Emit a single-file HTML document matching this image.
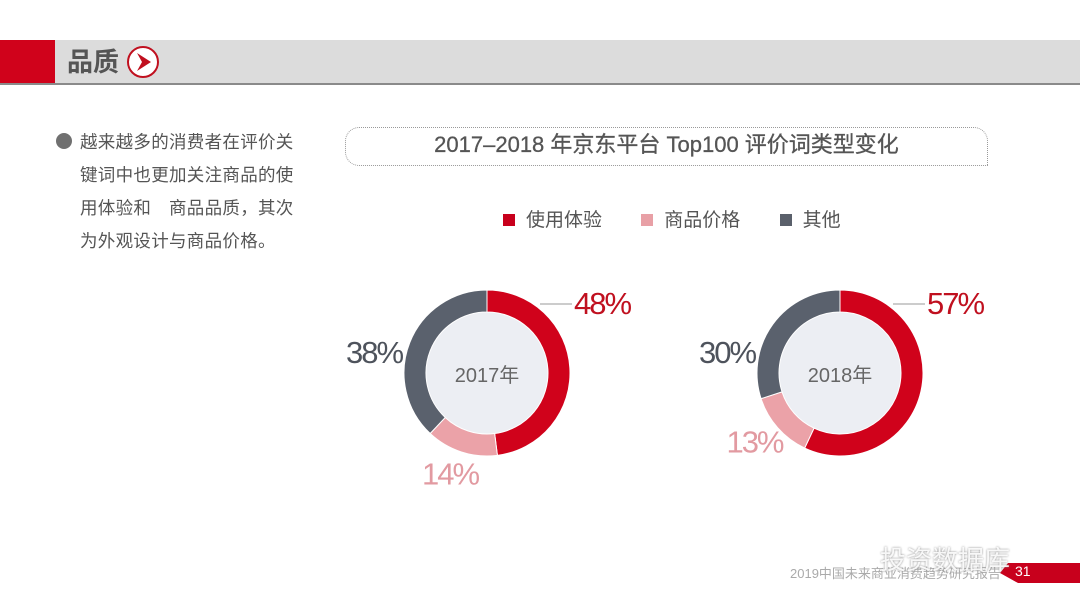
<!DOCTYPE html>
<html><head><meta charset="utf-8">
<style>
body{margin:0;width:1080px;height:608px;background:#fff;overflow:hidden;position:relative;font-family:"Liberation Sans","Noto Sans CJK SC",sans-serif;}
.abs{position:absolute;}
</style></head>
<body>
<div class="abs" style="left:0;top:40px;width:1080px;height:43px;background:#dcdcdc;border-bottom:2px solid #8a8a8a;"></div>
<div class="abs" style="left:0;top:40px;width:55px;height:43px;background:#d0021b;"></div>
<div class="abs" style="left:67px;top:44px;font-size:26px;font-weight:bold;color:#555;line-height:36px;">品质</div>
<svg class="abs" style="left:126px;top:45px" width="34" height="34"><circle cx="17" cy="17" r="15" fill="#fff" stroke="#c0101f" stroke-width="2"/><path d="M11 8 L25 17 L11 26 L16 17 Z" fill="#c0101f"/></svg>

<div class="abs" style="left:56px;top:133px;width:16px;height:16px;border-radius:50%;background:#707070;"></div>
<div class="abs" style="left:80px;top:126px;width:225px;font-size:17.5px;line-height:33px;color:#555;letter-spacing:0.3px;">越来越多的消费者在评价关键词中也更加关注商品的使用体验和　商品品质，其次为外观设计与商品价格。</div>

<div class="abs" style="left:345px;top:127px;width:641px;height:37px;border:1px dotted #999;border-radius:14px 14px 0 14px;"></div>
<div class="abs" style="left:345px;top:129px;width:643px;text-align:center;font-size:22px;line-height:32px;color:#555;-webkit-text-stroke:0.3px #555;">2017–2018 年京东平台 Top100 评价词类型变化</div>

<div class="abs" style="left:503px;top:207px;font-size:19px;color:#555;line-height:28px;white-space:nowrap;">
<span><span style="display:inline-block;width:12px;height:12px;background:#c8001c;margin-right:11px;"></span>使用体验</span>
<span style="margin-left:34px"><span style="display:inline-block;width:12px;height:12px;background:#e8a0a6;margin-right:11px;"></span>商品价格</span>
<span style="margin-left:34px"><span style="display:inline-block;width:12px;height:12px;background:#5a606b;margin-right:11px;"></span>其他</span>
</div>

<svg id="chart" class="abs" style="left:0;top:0" width="1080" height="608"></svg>

<div class="abs" style="left:790px;top:563px;font-size:13px;color:#aaa;">2019中国未来商业消费趋势研究报告</div>
<div class="abs" style="left:1000px;top:563px;width:80px;height:20px;background:#c8001c;clip-path:polygon(8px 0,100% 0,100% 100%,18px 100%,0 50%);"></div>
<div class="abs" style="left:1015px;top:563px;font-size:14px;color:#fff;">31</div>
<div class="abs" style="left:880px;top:540px;font-size:26px;color:rgba(255,255,255,0.9);text-shadow:0 0 2px #888;">投资数据库</div>

<script>
const categories = ["使用体验","商品价格","其他"];
const years = ["2017年","2018年"];
const shares2017 = [48,14,38];
const shares2018 = [57,13,30];
const colors = ["#d0021b","#eba2a8","#5a616d"];
const labelColors = ["#c0101f","#e29aa1","#4e535c"];
const svg = document.getElementById('chart');
const NS = "http://www.w3.org/2000/svg";
function pt(cx,cy,r,frac){const a=frac*2*Math.PI-Math.PI/2;return [cx+r*Math.cos(a),cy+r*Math.sin(a)];}
function arc(cx,cy,ro,ri,f0,f1){
  const large=(f1-f0)>0.5?1:0;
  const [x0,y0]=pt(cx,cy,ro,f0),[x1,y1]=pt(cx,cy,ro,f1),[x2,y2]=pt(cx,cy,ri,f1),[x3,y3]=pt(cx,cy,ri,f0);
  return `M${x0} ${y0} A${ro} ${ro} 0 ${large} 1 ${x1} ${y1} L${x2} ${y2} A${ri} ${ri} 0 ${large} 0 ${x3} ${y3}Z`;
}
function donut(cx,cy,vals,year,idx){
  const total=vals.reduce((a,b)=>a+b,0);
  const inner=document.createElementNS(NS,'circle');
  inner.setAttribute('cx',cx);inner.setAttribute('cy',cy);inner.setAttribute('r',61);inner.setAttribute('fill','#eceef3');
  
  
  svg.appendChild(inner);
  let acc=0;
  vals.forEach((v,i)=>{
    const f0=acc/total,f1=(acc+v)/total;acc+=v;
    const p=document.createElementNS(NS,'path');
    p.setAttribute('d',arc(cx,cy,83,61,f0,f1));
    p.setAttribute('fill',colors[i]);
    p.setAttribute('stroke','#fff');p.setAttribute('stroke-width','1');
    
    
    svg.appendChild(p);
    const mid=(f0+f1)/2;
    let lx,ly;
    if(i===0){lx=cx+115;ly=cy-70;}
    else if(i===1){const q=pt(cx,cy,110,mid);lx=q[0]-3;ly=q[1]-4;}
    else {lx=cx-113;ly=cy-21;}
    const t=document.createElementNS(NS,'text');
    t.setAttribute('x',lx);t.setAttribute('y',ly+11);
    t.setAttribute('text-anchor','middle');
    t.setAttribute('font-size','31');
    t.setAttribute('letter-spacing','-2');
    t.setAttribute('fill',labelColors[i]);
    t.setAttribute('font-family','Liberation Sans Narrow, Liberation Sans, sans-serif');
    t.textContent=v+'%';
    
    
    svg.appendChild(t);
    if(i===0){
      const l=document.createElementNS(NS,'line');
      l.setAttribute('x1',cx+53);l.setAttribute('y1',cy-69);l.setAttribute('x2',cx+85);l.setAttribute('y2',cy-69);
      l.setAttribute('stroke','#999');l.setAttribute('stroke-width','1');
      
      
      svg.appendChild(l);
    }
  });
  const yt=document.createElementNS(NS,'text');
  yt.setAttribute('x',cx);yt.setAttribute('y',cy+9);yt.setAttribute('text-anchor','middle');
  yt.setAttribute('font-size','20');yt.setAttribute('fill','#666');
  yt.setAttribute('font-family','Liberation Sans, Noto Sans CJK SC, sans-serif');
  yt.textContent=year;
  
  
  svg.appendChild(yt);
}
donut(487,373,shares2017,years[0],2017);
donut(840,373,shares2018,years[1],2018);
</script>
</body></html>
